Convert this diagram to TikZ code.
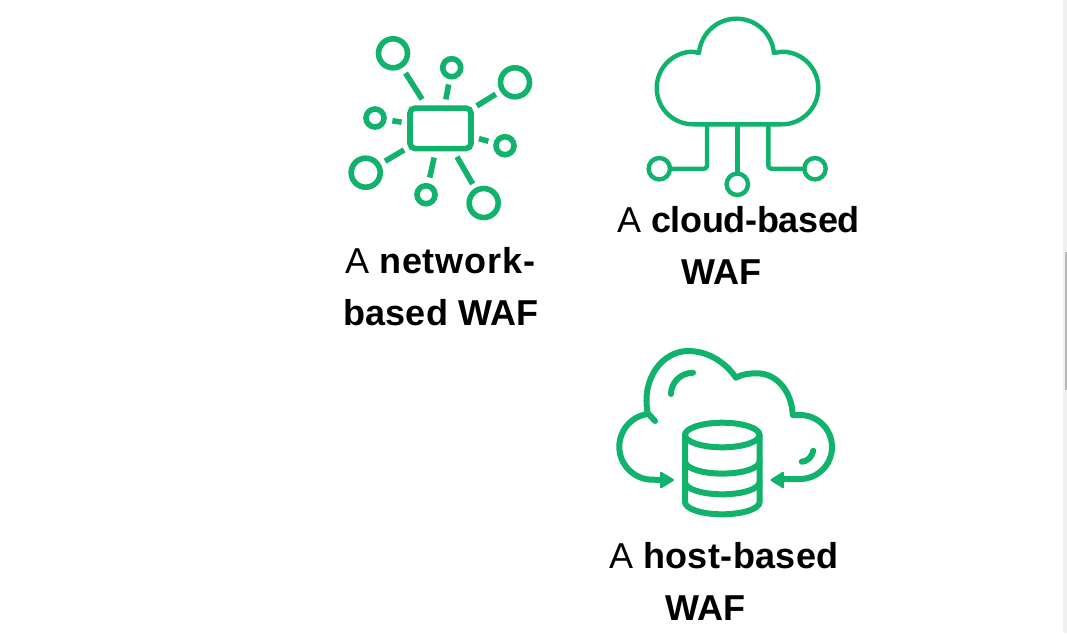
\documentclass[tikz,border=0pt]{standalone}
\usepackage{fontspec}
\setmainfont{Liberation Sans}
\definecolor{wafgreen}{HTML}{10B26C}
\tikzset{
  icon/.style={draw=wafgreen,line width=#1,line cap=round,line join=round},
  ring/.style n args={2}{circle,draw=wafgreen,line width=#2,minimum size=#1,inner sep=0pt,outer sep=0pt},
  bigring/.style={ring={29pt}{5.6pt}},
  smallring/.style={ring={18pt}{5.6pt}},
  cloudring/.style={ring={21.4pt}{4.4pt}},
  spoke/.style n args={2}{icon=5.6pt,line cap=butt,shorten <=#1,shorten >=#2},
  label/.style={anchor=base west,inner sep=0pt,font=\fontsize{36}{36}\selectfont,text=black},
}
\begin{document}
\begin{tikzpicture}[x=1pt,y=-1pt]
\useasboundingbox (0,0) rectangle (1067,633);
\fill[white] (0,0) rectangle (1067,633);
% scrollbar
\fill[black!6] (1063,0) rectangle (1067,633);
\fill[black!28] (1065,252) rectangle (1067,390);

% network icon
\node[draw=wafgreen,line width=5.6pt,rounded corners=5pt,minimum width=61pt,minimum height=40.5pt,inner sep=0pt,outer sep=0pt] (hub) at (440.5,128.3) {};
\node[bigring] (n1) at (393,53.3) {};
\node[smallring] (n2) at (451.7,67.7) {};
\node[bigring] (n3) at (515,82.3) {};
\node[smallring] (n4) at (375,118) {};
\node[smallring] (n5) at (505,145.7) {};
\node[bigring] (n6) at (365.7,172.7) {};
\node[smallring] (n7) at (426,194.7) {};
\node[bigring] (n8) at (483.7,203) {};
\draw[spoke={34.4pt}{23.4pt}] (hub.center) -- (n1.center);
\draw[spoke={29.4pt}{17pt}] (hub.center) -- (n2.center);
\draw[spoke={42.7pt}{22.6pt}] (hub.center) -- (n3.center);
\draw[spoke={39.4pt}{17.6pt}] (hub.center) -- (n4.center);
\draw[spoke={39.8pt}{17.2pt}] (hub.center) -- (n5.center);
\draw[spoke={42.4pt}{22.6pt}] (hub.center) -- (n6.center);
\draw[spoke={29.9pt}{17.6pt}] (hub.center) -- (n7.center);
\draw[spoke={32.9pt}{22pt}] (hub.center) -- (n8.center);
\node[label] (t1a) at (345,273) {A \textbf{\addfontfeature{LetterSpace=2.4}network-}};
\node[label] (t1b) at (343,325) {\textbf{\addfontfeature{LetterSpace=0.6}based WAF}};

% cloud icon
\draw[icon=4.4pt] (693,124.3) arc[start angle=270,end angle=90,radius=36.3pt]
  -- (699,53) arc[start angle=175,end angle=5,radius=37.6pt]
  -- (782,51.7) arc[start angle=90,end angle=-90,radius=36.3pt] -- cycle;
\node[cloudring] (c1) at (659.3,168.7) {};
\node[cloudring] (c2) at (737.3,184.3) {};
\node[cloudring] (c3) at (815,168.7) {};
\coordinate (c1t) at (707,124.3);
\coordinate (c2t) at (737.3,124.3);
\coordinate (c3t) at (768.3,124.3);
\draw[icon=4.4pt,rounded corners=3pt] (c1t) |- (c1);
\draw[icon=4.4pt] (c2t) -- (c2);
\draw[icon=4.4pt,rounded corners=3pt] (c3t) |- (c3);
\node[label] (t2a) at (617,232) {A \textbf{\addfontfeature{LetterSpace=-1}cloud-based}};
\node[label] (t2b) at (681,284) {\textbf{WAF}};

% host icon
\draw[icon=6pt] (655,421) -- (647.7,413)
  .. controls (641,378) and (663,351) .. (688,351)
  .. controls (708,351) and (725,362) .. (736,377.7)
  .. controls (742,374) and (750,373.3) .. (757,373.3)
  .. controls (777,373.3) and (792,392) .. (792.7,415)
  -- (800,415) arc[start angle=90,end angle=-90,radius=32pt] -- (780,479);
\draw[icon=6pt] (647.7,414) arc[start angle=98,end angle=270,radius=33pt] -- (665,480);
\fill[wafgreen,draw=wafgreen,line width=2pt,line join=round] (673,480) -- (661,472.7) -- (661,487.3) -- cycle;
\fill[wafgreen,draw=wafgreen,line width=2pt,line join=round] (771.5,480) -- (783,472.7) -- (783,487.3) -- cycle;
\draw[icon=6pt] (693,372.7) .. controls (680,373) and (671,383) .. (671,394);
\draw[icon=6pt] (813.3,450.7) .. controls (812,457) and (807,461.7) .. (801.7,461.7);
% database
\draw[icon=6pt] (722.3,435) ellipse [x radius=37.3pt,y radius=12.3pt];
\draw[icon=6pt] (685,435) -- (685,502) arc[start angle=180,end angle=360,x radius=37.3pt,y radius=12.3pt] -- (759.6,435);
\draw[icon=6pt] (685,461.3) arc[start angle=180,end angle=360,x radius=37.3pt,y radius=12.3pt];
\draw[icon=6pt] (685,482) arc[start angle=180,end angle=360,x radius=37.3pt,y radius=12.3pt];
\node[label] (t3a) at (609,568) {A \textbf{\addfontfeature{LetterSpace=1.1}host-based}};
\node[label] (t3b) at (665,620) {\textbf{WAF}};
\end{tikzpicture}
\end{document}
